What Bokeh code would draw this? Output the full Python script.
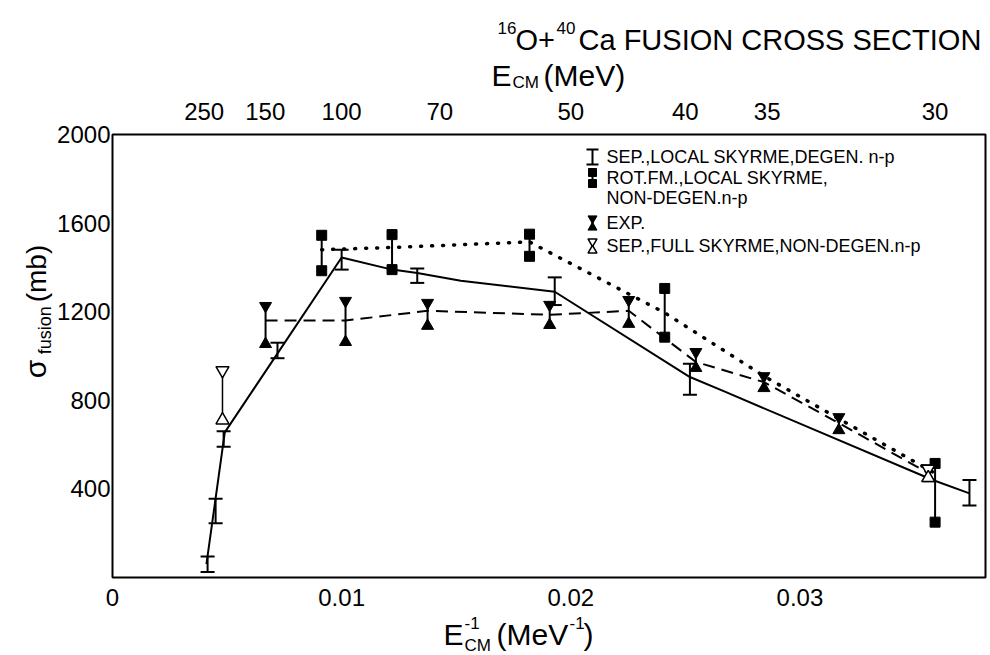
import math
from bokeh.plotting import figure
from bokeh.layouts import column, row
from bokeh.models import Range1d, LinearAxis, FixedTicker, Label
from bokeh.core.properties import value
from bokeh.embed import file_html
from bokeh.resources import INLINE

# ---------------- data ----------------
# SEP., LOCAL SKYRME, DEGEN. n-p  (solid line + I error bars)
solid_x = [0.0041, 0.0049, 0.0100, 0.0122, 0.0133, 0.0152, 0.0193, 0.0252, 0.0267, 0.0358, 0.0374]
solid_y = [60, 655, 1445, 1390, 1375, 1340, 1290, 905, 840, 440, 380]
sep_x = [0.00415, 0.0045, 0.00485, 0.0072, 0.0100, 0.0133, 0.0193, 0.0252, 0.0374]
sep_lo = [25, 245, 590, 990, 1390, 1330, 1230, 825, 325]
sep_hi = [95, 355, 660, 1060, 1480, 1395, 1355, 965, 440]

# ROT.FM., LOCAL SKYRME, NON-DEGEN. n-p  (dotted line + filled squares)
rot_x = [0.00913, 0.0122, 0.0182, 0.0241, 0.0359]
rot_lo = [1385, 1390, 1450, 1085, 250]
rot_hi = [1545, 1548, 1550, 1305, 515]
rot_line_x = [0.00913, 0.0122, 0.0182, 0.0241, 0.0285, 0.0359]
rot_line_y = [1480, 1490, 1515, 1195, 905, 470]

# EXP.  (dashed line + filled triangles)
exp_x = [0.00668, 0.01017, 0.01375, 0.01908, 0.02253, 0.02546, 0.02843, 0.0317, 0.03563]
exp_lo = [1054, 1063, 1136, 1140, 1145, 946, 855, 665, 448]
exp_hi = [1226, 1249, 1240, 1231, 1253, 1018, 909, 724, 493]
exp_y = [1160, 1160, 1204, 1186, 1204, 973, 882, 697, 470]

# SEP., FULL SKYRME, NON-DEGEN. n-p  (open triangles)
full_x = [0.0048, 0.0356]
full_lo = [710, 450]
full_hi = [935, 490]

# axes
bottom_ticks = [0.0, 0.01, 0.02, 0.03]
bottom_labels = ["0", "0.01", "0.02", "0.03"]
left_ticks = [400, 800, 1200, 1600, 2000]
top_energies = ["250", "150", "100", "70", "50", "40", "35", "30"]
top_ticks = [1 / 250, 1 / 150, 1 / 100, 1 / 70, 1 / 50, 1 / 40, 1 / 35, 0.0359]

legend_texts = ["SEP.,LOCAL SKYRME,DEGEN. n-p", "ROT.FM.,LOCAL SKYRME,",
                "NON-DEGEN.n-p", "EXP.", "SEP.,FULL SKYRME,NON-DEGEN.n-p"]

# ---------------- layout (canvas pixels) ----------------
W, H = 990, 655
FL, FR, FT, FB = 112, 985, 134, 577      # main plot frame
HDR = 92                                  # header strip height
FOOT = 612                                # top of footer strip
LW = 53                                   # width of left title strip
XMAX, YMAX = 0.0381, 2000
FONT = "Liberation Sans"
BL = "black"


def dx(px):
    return (px - FL) / (FR - FL) * XMAX


def dy(py):
    return (FB - py) / (FB - FT) * YMAX


def blank(width, height, y0, y1):
    f = figure(width=width, height=height, output_backend="svg", toolbar_location=None,
               x_range=Range1d(0, width), y_range=Range1d(y0, y1),
               x_axis_location=None, y_axis_location=None, min_border=0)
    f.grid.visible = False
    f.outline_line_color = None
    f.background_fill_color = "white"
    f.border_fill_color = "white"
    return f


def put(f, px, py, txt, size, angle=0.0):
    # y data of the strips = H - canvas y
    f.text(x=[px], y=[H - py], text=[txt], text_font=value(FONT), text_font_size=size,
           text_align="left", text_baseline="middle", angle=angle, text_color=BL)


# header: title and top-axis title
header = blank(W, HDR, H - HDR, H)
put(header, 497, 27, "16", "17px")
put(header, 515, 39, "O+", "29px")
put(header, 556, 27, "40", "17px")
put(header, 578, 39, "Ca FUSION CROSS SECTION", "29px")
put(header, 491, 75, "E", "30px")
put(header, 512, 82, "CM", "17px")
put(header, 543, 75, "(MeV)", "30px")

# footer: bottom-axis title
footer = blank(W, H - FOOT, 0, H - FOOT)
put(footer, 443, 634, "E", "30px")
put(footer, 464, 622, "-1", "17px")
put(footer, 464, 645, "CM", "17px")
put(footer, 496, 634, "(MeV", "30px")
put(footer, 569, 622, "-1", "17px")
put(footer, 583, 634, ")", "30px")

# left strip: rotated y-axis title
left = blank(LW, FOOT - HDR, H - FOOT, H - HDR)
put(left, 35, 378, "σ", "30px", angle=math.pi / 2)
put(left, 44, 350, "fusion", "18px", angle=math.pi / 2)
put(left, 36, 289, "(mb)", "28px", angle=math.pi / 2)

# ---------------- main plot ----------------
p = figure(width=W - LW, height=FOOT - HDR, output_backend="svg", toolbar_location=None,
           x_range=Range1d(0, XMAX), y_range=Range1d(0, YMAX),
           min_border_left=FL - LW, min_border_right=W - FR,
           min_border_top=FT - HDR, min_border_bottom=FOOT - FB)
p.grid.visible = False
p.outline_line_color = BL
p.outline_line_width = 2
p.background_fill_color = "white"
p.border_fill_color = "white"


def style_axis(ax):
    ax.axis_line_color = None
    ax.major_tick_line_color = None
    ax.minor_tick_line_color = None
    ax.major_label_text_font = FONT
    ax.major_label_text_font_size = "24px"
    ax.major_label_text_color = BL


xa = p.xaxis[0]
xa.ticker = FixedTicker(ticks=bottom_ticks)
xa.major_label_overrides = {t: l for t, l in zip(bottom_ticks, bottom_labels)}
style_axis(xa)
xa.major_label_standoff = 5

ya = p.yaxis[0]
ya.ticker = FixedTicker(ticks=left_ticks)
style_axis(ya)
ya.major_tick_out = 0
ya.major_tick_in = 0
ya.major_label_standoff = 2

top = LinearAxis(ticker=FixedTicker(ticks=top_ticks),
                 major_label_overrides={t: l for t, l in zip(top_ticks, top_energies)})
style_axis(top)
top.major_label_standoff = 9
p.add_layout(top, "above")

# solid line and I bars
p.line(solid_x, solid_y, line_color=BL, line_width=2)
p.segment(sep_x, sep_lo, sep_x, sep_hi, line_color=BL, line_width=2)
p.scatter(sep_x, sep_lo, marker="dash", size=14, line_color=BL, line_width=2)
p.scatter(sep_x, sep_hi, marker="dash", size=14, line_color=BL, line_width=2)

# dotted line and squares
p.line(rot_line_x, rot_line_y, line_color=BL, line_width=3.5, line_dash="1 10", line_cap="round")
p.segment(rot_x, rot_lo, rot_x, rot_hi, line_color=BL, line_width=2)
p.scatter(rot_x, rot_lo, marker="square", size=10, fill_color=BL, line_color=BL)
p.scatter(rot_x, rot_hi, marker="square", size=10, fill_color=BL, line_color=BL)

# dashed line and filled triangles
p.line(exp_x, exp_y, line_color=BL, line_width=2, line_dash="12 7")
p.segment(exp_x, exp_lo, exp_x, exp_hi, line_color=BL, line_width=2)
p.scatter(exp_x, exp_hi, marker="inverted_triangle", size=12, fill_color=BL, line_color=BL)
p.scatter(exp_x, exp_lo, marker="triangle", size=12, fill_color=BL, line_color=BL)

# open triangles
p.segment(full_x, full_lo, full_x, full_hi, line_color=BL, line_width=1.5)
p.scatter(full_x, full_hi, marker="inverted_triangle", size=13, fill_color="white",
          line_color=BL, line_width=1.5)
p.scatter(full_x, full_lo, marker="triangle", size=13, fill_color="white",
          line_color=BL, line_width=1.5)

# legend (drawn by hand)
LX = dx(592)
p.segment([LX], [dy(149)], [LX], [dy(164)], line_color=BL, line_width=2)
p.scatter([LX, LX], [dy(149), dy(164)], marker="dash", size=12, line_color=BL, line_width=2)
p.segment([LX], [dy(171)], [LX], [dy(184)], line_color=BL, line_width=2)
p.scatter([LX, LX], [dy(172), dy(183)], marker="square", size=8, fill_color=BL, line_color=BL)
p.segment([LX], [dy(216)], [LX], [dy(229)], line_color=BL, line_width=2)
p.scatter([LX], [dy(218)], marker="inverted_triangle", size=9, fill_color=BL, line_color=BL)
p.scatter([LX], [dy(227)], marker="triangle", size=9, fill_color=BL, line_color=BL)
p.segment([LX], [dy(239)], [LX], [dy(252)], line_color=BL, line_width=1.5)
p.scatter([LX], [dy(241)], marker="inverted_triangle", size=9, fill_color="white", line_color=BL, line_width=1.5)
p.scatter([LX], [dy(250)], marker="triangle", size=9, fill_color="white", line_color=BL, line_width=1.5)

legend_rows = [156, 177, 197, 222, 245]
for txt, ry in zip(legend_texts, legend_rows):
    p.add_layout(Label(x=dx(606), y=dy(ry), text=txt, text_font=FONT, text_font_size="18px",
                       text_baseline="middle", text_align="left", text_color=BL))

layout = column(header, row(left, p), footer)
open("out.html", "w").write(file_html(layout, INLINE))
